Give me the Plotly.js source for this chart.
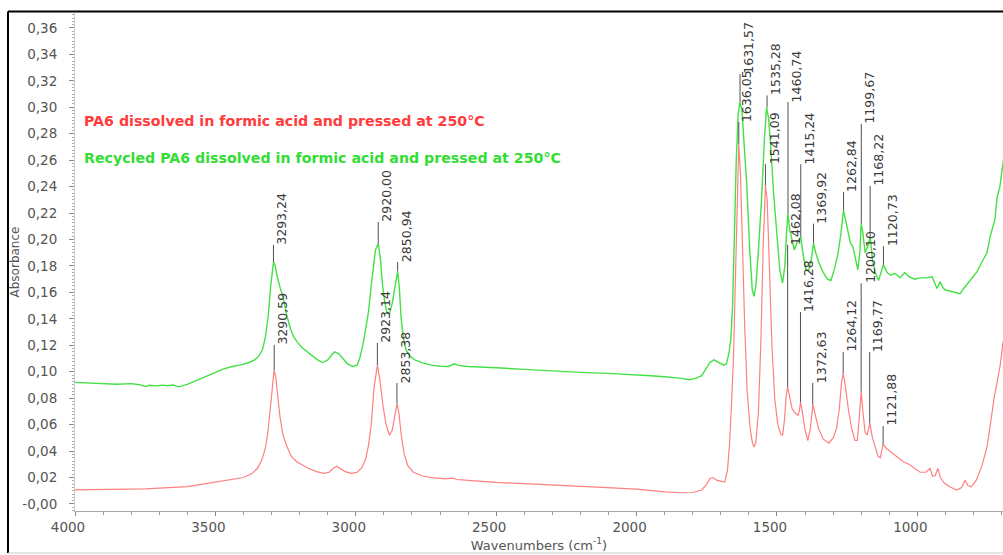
<!DOCTYPE html>
<html>
<head>
<meta charset="utf-8">
<script src="https://cdn.plot.ly/plotly-3.0.1.min.js"></script>
<style>html,body{margin:0;padding:0;background:#fff;}#chart{width:1003px;height:555px;}</style>
</head>
<body>
<div id="chart"></div>
<script>
// ---------- data ----------
const greenName = "Recycled PA6 dissolved in formic acid and pressed at 250°C";
const redName = "PA6 dissolved in formic acid and pressed at 250°C";

const greenWn = [4000,3950,3900,3850,3800,3770,3750,3735,3710,3690,3670,3650,3630,3615,3600,3575,3550,3525,3500,3470,3440,3410,3380,3360,3345,3332,3322,3312,3303,3297,3293,3287,3280,3270,3260,3245,3232,3220,3207,3190,3171,3150,3136,3118,3100,3085,3075,3060,3045,3030,3010,2995,2985,2975,2965,2955,2945,2937,2930,2920,2912,2905,2897,2888,2880,2870,2860,2851,2845,2839,2831,2821,2808,2790,2760,2730,2700,2670,2650,2635,2600,2550,2500,2400,2300,2200,2100,2000,1950,1900,1860,1839,1811,1790,1768,1750,1739,1725,1707,1690,1680,1671,1664,1658,1652,1645,1638,1632,1625,1618,1608,1597,1588,1582,1575,1565,1555,1545,1537,1530,1522,1512,1500,1490,1480,1472,1466,1461,1455,1447,1438,1428,1420,1415,1408,1398,1388,1378,1370,1362,1350,1335,1320,1308,1295,1282,1272,1266,1263,1256,1246,1238,1230,1220,1212,1205,1200,1194,1186,1176,1168,1160,1150,1138,1130,1121,1108,1095,1080,1062,1045,1030,1010,990,968,948,938,930,919,910,902,885,873,858,848,835,820,800,788,766,752,741,730,724,716,706,700,690];
const greenAbs = [0.0920,0.0915,0.0912,0.0905,0.0910,0.0902,0.0888,0.0898,0.0893,0.0899,0.0894,0.0900,0.0886,0.0894,0.0905,0.0928,0.0950,0.0978,0.1000,0.1022,0.1040,0.1052,0.1070,0.1090,0.1120,0.1170,0.1260,0.1420,0.1650,0.1780,0.1830,0.1800,0.1720,0.1640,0.1570,0.1420,0.1320,0.1260,0.1220,0.1180,0.1150,0.1115,0.1090,0.1070,0.1090,0.1130,0.1150,0.1135,0.1095,0.1060,0.1040,0.1050,0.1110,0.1200,0.1320,0.1450,0.1650,0.1820,0.1920,0.1970,0.1850,0.1660,0.1530,0.1440,0.1440,0.1520,0.1660,0.1760,0.1640,0.1420,0.1260,0.1165,0.1120,0.1090,0.1065,0.1050,0.1042,0.1040,0.1060,0.1048,0.1040,0.1036,0.1030,0.1018,0.1005,0.0995,0.0988,0.0978,0.0970,0.0962,0.0955,0.0950,0.0940,0.0950,0.0970,0.1030,0.1070,0.1090,0.1070,0.1050,0.1060,0.1140,0.1250,0.1500,0.2000,0.2600,0.2950,0.3040,0.2980,0.2780,0.2430,0.1920,0.1620,0.1570,0.1650,0.1950,0.2300,0.2750,0.3000,0.2920,0.2700,0.2350,0.2000,0.1770,0.1670,0.1800,0.2050,0.2200,0.2080,0.2000,0.1920,0.1980,0.2010,0.2020,0.1900,0.1780,0.1760,0.1850,0.1970,0.1900,0.1820,0.1750,0.1700,0.1690,0.1780,0.1900,0.2050,0.2170,0.2220,0.2150,0.2050,0.1970,0.1950,0.1850,0.1770,0.1900,0.2120,0.2050,0.1900,0.1950,0.2020,0.1850,0.1750,0.1690,0.1740,0.1810,0.1750,0.1730,0.1745,0.1710,0.1750,0.1720,0.1700,0.1710,0.1710,0.1720,0.1670,0.1630,0.1680,0.1640,0.1620,0.1610,0.1600,0.1595,0.1590,0.1630,0.1670,0.1720,0.1755,0.1845,0.1900,0.2020,0.2100,0.2150,0.2320,0.2400,0.2500,0.2650];

const redWn = [4000,3950,3900,3850,3800,3750,3700,3650,3600,3550,3500,3450,3400,3370,3350,3335,3322,3312,3303,3296,3291,3285,3278,3270,3260,3248,3230,3210,3190,3170,3140,3115,3095,3080,3068,3055,3038,3015,2995,2978,2965,2955,2945,2935,2923,2913,2903,2892,2880,2870,2860,2853,2846,2838,2828,2815,2795,2760,2720,2680,2655,2640,2600,2550,2500,2400,2300,2200,2125,2050,2000,1950,1900,1839,1800,1768,1750,1738,1728,1715,1700,1686,1676,1669,1662,1655,1648,1642,1636,1630,1623,1615,1606,1596,1588,1582,1575,1566,1557,1549,1541,1535,1527,1518,1508,1497,1487,1480,1473,1467,1462,1455,1446,1436,1425,1420,1416,1410,1400,1390,1382,1372,1365,1352,1335,1315,1300,1288,1278,1270,1264,1257,1246,1234,1222,1214,1207,1200,1194,1186,1179,1169,1160,1150,1140,1132,1122,1110,1090,1070,1050,1030,1010,990,970,955,946,936,927,918,905,885,860,842,830,820,808,790,770,752,738,727,716,705,695,685];
const redAbs = [0.0106,0.0108,0.0110,0.0108,0.0111,0.0115,0.0120,0.0126,0.0132,0.0148,0.0166,0.0182,0.0200,0.0230,0.0270,0.0330,0.0420,0.0560,0.0780,0.0950,0.1010,0.0960,0.0820,0.0660,0.0530,0.0450,0.0360,0.0320,0.0295,0.0270,0.0245,0.0232,0.0240,0.0270,0.0285,0.0270,0.0245,0.0232,0.0240,0.0275,0.0340,0.0440,0.0600,0.0880,0.1050,0.0920,0.0740,0.0600,0.0520,0.0560,0.0680,0.0760,0.0680,0.0520,0.0380,0.0290,0.0240,0.0210,0.0198,0.0190,0.0195,0.0185,0.0178,0.0170,0.0163,0.0154,0.0145,0.0136,0.0130,0.0118,0.0112,0.0100,0.0092,0.0085,0.0087,0.0106,0.0150,0.0195,0.0200,0.0180,0.0170,0.0166,0.0260,0.0450,0.0750,0.1100,0.1700,0.2350,0.2720,0.2500,0.1950,0.1350,0.0850,0.0580,0.0470,0.0430,0.0470,0.0700,0.1250,0.1950,0.2410,0.2300,0.1800,0.1200,0.0800,0.0600,0.0530,0.0520,0.0640,0.0820,0.0885,0.0800,0.0720,0.0690,0.0670,0.0710,0.0770,0.0700,0.0560,0.0480,0.0560,0.0750,0.0690,0.0570,0.0490,0.0460,0.0500,0.0570,0.0720,0.0920,0.0990,0.0900,0.0720,0.0570,0.0480,0.0480,0.0650,0.0850,0.0700,0.0540,0.0520,0.0610,0.0500,0.0430,0.0360,0.0350,0.0450,0.0420,0.0385,0.0350,0.0320,0.0300,0.0270,0.0240,0.0240,0.0270,0.0210,0.0215,0.0270,0.0200,0.0160,0.0130,0.0106,0.0125,0.0180,0.0140,0.0130,0.0180,0.0290,0.0430,0.0630,0.0800,0.0920,0.1050,0.1220,0.1300];

// peak markers: wavenumber, absorbance at the peak, height where the label starts
const greenPeakWn  = [3293.24, 2920.00, 2850.94, 1631.57, 1535.28, 1460.74, 1415.24, 1369.92, 1262.84, 1199.67, 1168.22, 1120.73];
const greenPeakAbs = [0.183, 0.197, 0.176, 0.304, 0.300, 0.220, 0.202, 0.197, 0.222, 0.212, 0.202, 0.181];
const greenLabelAbs= [0.196, 0.2133, 0.183, 0.325, 0.309, 0.304, 0.257, 0.212, 0.236, 0.2875, 0.2405, 0.195];

const redPeakWn  = [3290.59, 2923.14, 2853.38, 1636.05, 1541.09, 1462.08, 1416.28, 1372.63, 1264.12, 1200.10, 1169.77, 1121.88];
const redPeakAbs = [0.101, 0.105, 0.076, 0.272, 0.241, 0.0885, 0.077, 0.075, 0.099, 0.085, 0.061, 0.045];
const redLabelAbs= [0.1203, 0.1218, 0.0915, 0.289, 0.257, 0.196, 0.1452, 0.0915, 0.115, 0.167, 0.115, 0.059];

const xTickVals = [4000, 3500, 3000, 2500, 2000, 1500, 1000];
const xTickText = ["4000", "3500", "3000", "2500", "2000", "1500", "1000"];
const yTickVals = [0,0.02,0.04,0.06,0.08,0.10,0.12,0.14,0.16,0.18,0.20,0.22,0.24,0.26,0.28,0.30,0.32,0.34,0.36];
const yTickText = ["-0,00","0,02","0,04","0,06","0,08","0,10","0,12","0,14","0,16","0,18","0,20","0,22","0,24","0,26","0,28","0,30","0,32","0,34","0,36"];

// ---------- styling ----------
const FONT = "DejaVu Sans, Verdana, sans-serif";
const GREEN_LINE = "#45e045";
const RED_LINE = "#ff8080";
const GREEN_TEXT = "#33dd33";
const RED_TEXT = "#ff3b3b";
const AX = "#555555";

const traces = [
  {x: greenWn, y: greenAbs, type: "scatter", mode: "lines", name: greenName,
   line: {color: GREEN_LINE, width: 1.4}, hoverinfo: "skip"},
  {x: redWn, y: redAbs, type: "scatter", mode: "lines", name: redName,
   line: {color: RED_LINE, width: 1.2}, hoverinfo: "skip"}
];

const shapes = [];
const annotations = [];
function fmt(v){ return v.toFixed(2).replace(".", ","); }
function addPeaks(wn, pk, lab){
  for (let i = 0; i < wn.length; i++){
    shapes.push({type: "line", xref: "x", yref: "y", x0: wn[i], x1: wn[i], y0: pk[i], y1: lab[i],
                 line: {color: "#505050", width: 1}});
    annotations.push({xref: "x", yref: "y", x: wn[i], y: lab[i], text: fmt(wn[i]), showarrow: false,
                      textangle: -90, xanchor: "left", yanchor: "bottom", xshift: -1, yshift: -2,
                      font: {family: FONT, size: 12.5, color: "#3a3a3a"}});
  }
}
addPeaks(greenPeakWn, greenPeakAbs, greenLabelAbs);
addPeaks(redPeakWn, redPeakAbs, redLabelAbs);

// legend-like texts
annotations.push({xref: "paper", yref: "paper", x: 0.0075, y: 0.783, xanchor: "left", yanchor: "middle",
  text: "<b>" + redName + "</b>", showarrow: false,
  font: {family: FONT, size: 14.2, color: RED_TEXT}});
annotations.push({xref: "paper", yref: "paper", x: 0.0075, y: 0.709, xanchor: "left", yanchor: "middle",
  text: "<b>" + greenName + "</b>", showarrow: false,
  font: {family: FONT, size: 14.2, color: GREEN_TEXT}});

// outer frame of the figure
shapes.push({type: "line", xref: "paper", yref: "paper", x0: -0.0722, x1: -0.0722, y0: -0.0843, y1: 1.003,
             line: {color: "#000", width: 2}});
shapes.push({type: "line", xref: "paper", yref: "paper", x0: -0.0722, x1: 1.01, y0: 1.003, y1: 1.003,
             line: {color: "#000", width: 2}});
shapes.push({type: "line", xref: "paper", yref: "paper", x0: -0.0722, x1: 1.01, y0: -0.0843, y1: -0.0843,
             line: {color: "#cccccc", width: 1}});

const layout = {
  width: 1003, height: 555,
  margin: {l: 75, r: 0, t: 13, b: 44, pad: 0},
  paper_bgcolor: "#fff", plot_bgcolor: "#fff",
  showlegend: false,
  font: {family: FONT, color: AX},
  xaxis: {
    range: [4000, 695], autorange: false,
    tickvals: xTickVals, ticktext: xTickText,
    ticks: "outside", ticklen: 4, tickcolor: "#888", tickwidth: 1,
    minor: {dtick: 100, tick0: 0, ticks: "outside", ticklen: 3, tickcolor: "#999"},
    showline: true, linecolor: "#aaaaaa", linewidth: 1,
    showgrid: false, zeroline: false,
    tickfont: {family: FONT, size: 13.5, color: AX},
    ticklabelshift: 7,
    title: {text: "Wavenumbers (cm<sup>-1</sup>)", font: {family: FONT, size: 13, color: AX}, standoff: 6}
  },
  yaxis: {
    range: [-0.0053, 0.3713], autorange: false,
    tickvals: yTickVals, ticktext: yTickText,
    ticks: "outside", ticklen: 5, tickcolor: "#888", tickwidth: 1,
    minor: {dtick: 0.0025, tick0: 0, ticks: "outside", ticklen: 2, tickcolor: "#aaa"},
    showline: true, linecolor: "#cccccc", linewidth: 1,
    showgrid: false, zeroline: false,
    tickfont: {family: FONT, size: 13.5, color: AX},
    ticklabelstandoff: 9,
    title: {text: "Absorbance", font: {family: FONT, size: 12, color: AX}, standoff: 0}
  },
  shapes: shapes,
  annotations: annotations
};

Plotly.newPlot("chart", traces, layout, {displayModeBar: false, staticPlot: true});
</script>
</body>
</html>
